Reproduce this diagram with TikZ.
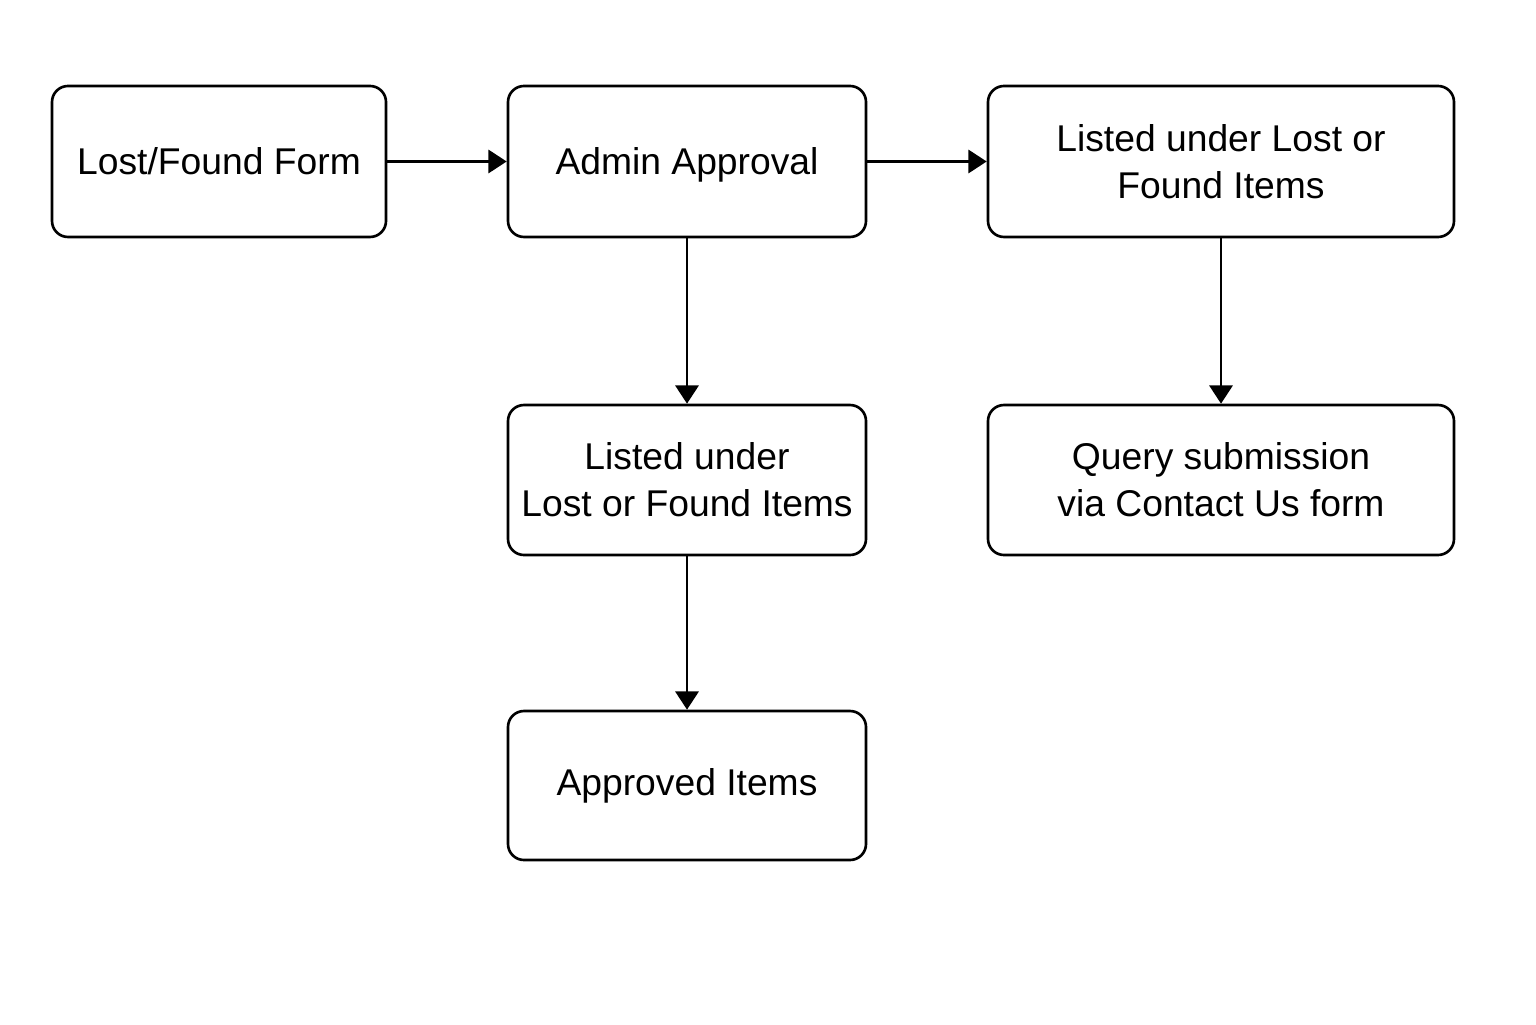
\documentclass[tikz,border=0pt]{standalone}
\usepackage{fontspec}
\setmainfont{Liberation Sans}
\usepackage{tikz}
\usetikzlibrary{arrows.meta}

\begin{document}
\begin{tikzpicture}[
  flowbox/.style={draw, line width=0.75pt, rounded corners=0.16cm, align=center,
    inner sep=0pt, minimum height=1.51cm, font=\fontsize{10.6}{13.4}\selectfont},
  flowarrow/.style={line width=0.75pt, -{Triangle[length=5.2pt,width=6.6pt]}}
]
\fill[white] (0,0) rectangle (15.36,10.24);
\node[flowbox, minimum width=3.34cm] (form) at (2.19,8.625) {Lost/Found Form};
\node[flowbox, minimum width=3.58cm, text depth=0pt] (admin) at (6.87,8.625) {Admin Approval};
\node[flowbox, minimum width=4.66cm] (listright) at (12.21,8.625) {Listed under Lost or\\ Found Items};
\node[flowbox, minimum width=3.58cm, minimum height=1.50cm] (listmid) at (6.87,5.44) {Listed under\\ Lost or Found Items};
\node[flowbox, minimum width=4.66cm, minimum height=1.50cm] (query) at (12.21,5.44) {Query submission\\ via Contact Us form};
\node[flowbox, minimum width=3.58cm, minimum height=1.49cm] (approved) at (6.87,2.385) {Approved Items};
% connectors
\draw[flowarrow] (form) -- (admin);
\draw[flowarrow] (admin) -- (listright);
\draw[flowarrow] (admin) -- (listmid);
\draw[flowarrow] (listright) -- (query);
\draw[flowarrow] (listmid) -- (approved);
\end{tikzpicture}
\end{document}
